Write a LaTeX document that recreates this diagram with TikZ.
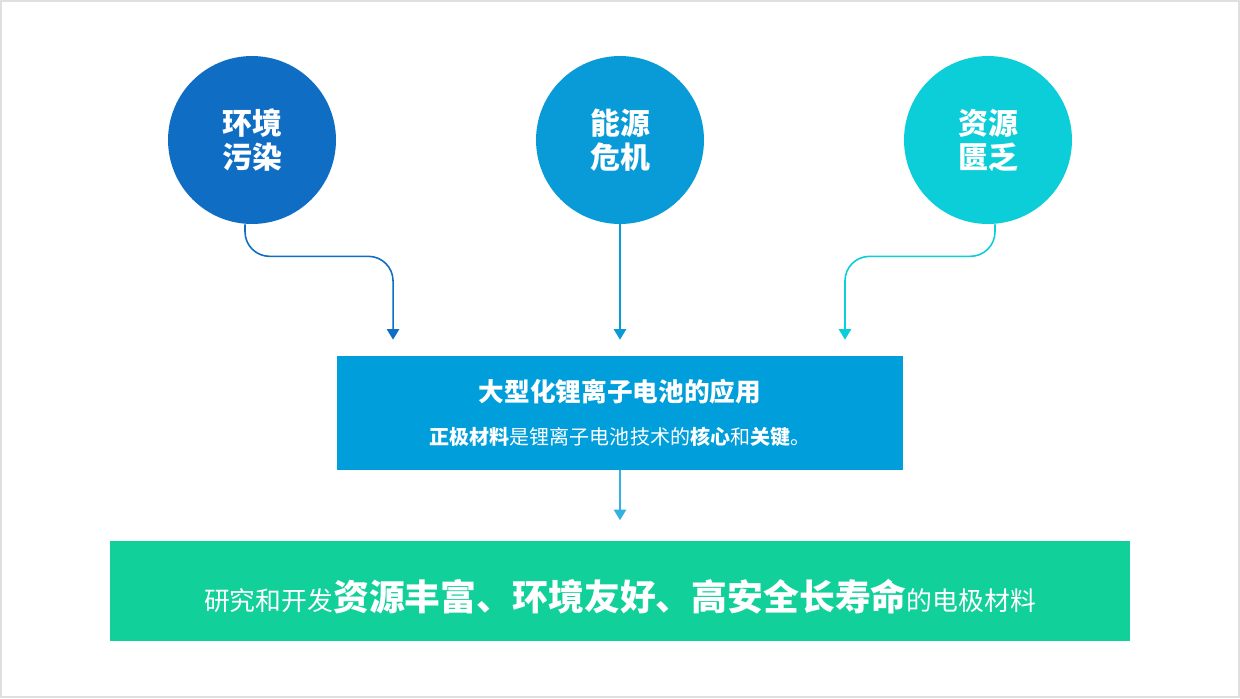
\documentclass[tikz,border=0pt]{standalone}
\usepackage{fontspec}
\setmainfont{Noto Sans CJK SC}
\usetikzlibrary{arrows.meta}
\definecolor{envblue}{RGB}{15,109,196}
\definecolor{energyblue}{RGB}{8,155,215}
\definecolor{resourcecyan}{RGB}{12,206,216}
\definecolor{appblue}{RGB}{0,158,219}
\definecolor{goalgreen}{RGB}{17,208,153}
\begin{document}
\begin{tikzpicture}[x=0.02cm, y=-0.02cm,
	bubble/.style={circle, minimum size=3.36cm, inner sep=0pt, text=white, align=center,
		font=\fontsize{17}{19.3}\selectfont\bfseries},
	panel/.style={minimum width=11.32cm, minimum height=2.28cm, inner sep=0pt, fill=appblue,
		text=white, align=center, font=\fontsize{11.4}{24}\selectfont},
	goalbox/.style={minimum width=20.4cm, minimum height=2cm, inner sep=0pt, fill=goalgreen,
		text=white, text height=23pt, text depth=0pt, font=\fontsize{14.7}{17}\selectfont},
	link/.style={line width=0.9pt, -{Triangle[width=7pt,length=6pt]}, rounded corners=14pt}]
					% frame
					\useasboundingbox (0,0) rectangle (1240,698);
					\draw[gray!25, line width=1.5pt] (1,1) rectangle (1239,697);
					% circles: x position / colour / label
					\def\circles {252/envblue/{环境\\污染},
								  620/energyblue/{能源\\危机},
								  988/resourcecyan/{资源\\匮乏}};
					\foreach \x/\col/\label [count=\index] in \circles
					{
						\node[bubble, fill=\col] (c_\index) at (\x,140) {\label};
					}
					% boxes
					\node[panel] (app) at (620,413)
						{{\fontsize{14.6}{17}\selectfont\bfseries 大型化锂离子电池的应用}\\
						 {\bfseries 正极材料}是锂离子电池技术的{\bfseries 核心}和{\bfseries 关键}。};
					\node[goalbox] (goal) at (620,590.5)
						{研究和开发{\fontsize{20.4}{24}\selectfont\bfseries 资源丰富、环境友好、高安全长寿命}的电极材料};
					% edges
					\draw[link, envblue, shorten >=0.32cm] ([xshift=-0.14cm]c_1.south) -- ++(0,32) -| ([xshift=-4.54cm]app.north);
					\draw[link, energyblue, shorten >=0.32cm] (c_2) -- (app);
					\draw[link, resourcecyan, shorten >=0.32cm] ([xshift=0.14cm]c_3.south) -- ++(0,32) -| ([xshift=4.5cm]app.north);
					\draw[link, appblue!80, shorten >=0.4cm] (app) -- (goal);
				\end{tikzpicture}
\end{document}
